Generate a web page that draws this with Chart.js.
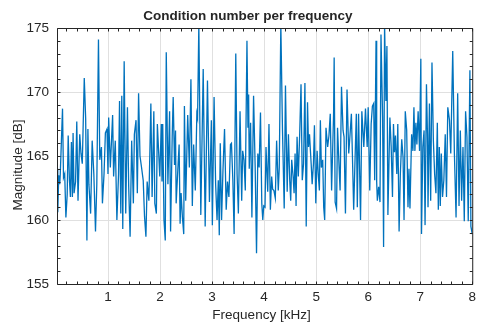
<!DOCTYPE html>
<html><head><meta charset="utf-8">
<script src="https://cdn.jsdelivr.net/npm/chart.js@4/dist/chart.umd.min.js"></script>
<style>html,body{margin:0;padding:0;background:#fff}canvas{display:block}</style>
</head><body>
<canvas id="c" width="481" height="323"></canvas>
<script>
// Frequencies (kHz) of the plotted samples
const freqKHz = [
0.019,0.034,0.053,0.072,0.082,0.125,0.144,0.167,0.190,0.215,0.234,0.258,0.277,0.296,0.315,0.328,0.347,0.376,0.399,0.423,
0.456,0.480,0.505,0.543,0.570,0.594,0.613,0.632,0.665,0.695,0.727,0.759,0.784,0.816,0.841,0.873,0.892,0.923,0.949,0.980,
0.999,1.012,1.044,1.088,1.107,1.139,1.170,1.202,1.221,1.245,1.264,1.283,1.310,1.340,1.373,1.397,1.424,1.454,1.487,1.506,
1.538,1.563,1.587,1.614,1.644,1.676,1.701,1.728,1.752,1.785,1.823,1.847,1.880,1.899,1.929,1.948,1.994,2.024,2.037,2.051,
2.075,2.100,2.119,2.151,2.183,2.202,2.233,2.252,2.278,2.297,2.309,2.341,2.366,2.385,2.404,2.430,2.455,2.468,2.493,2.531,
2.563,2.593,2.620,2.645,2.677,2.707,2.721,2.745,2.783,2.829,2.867,2.911,2.949,2.986,3.005,3.038,3.068,3.095,3.119,3.138,
3.157,3.182,3.209,3.239,3.271,3.296,3.323,3.353,3.372,3.399,3.423,3.455,3.480,3.505,3.537,3.569,3.588,3.613,3.638,3.670,
3.689,3.702,3.714,3.740,3.765,3.797,3.828,3.854,3.879,3.904,3.930,3.955,3.974,3.993,4.017,4.036,4.069,4.093,4.120,4.145,
4.164,4.188,4.215,4.240,4.272,4.291,4.321,4.353,4.386,4.410,4.443,4.467,4.492,4.511,4.530,4.557,4.576,4.595,4.614,4.633,
4.657,4.682,4.709,4.733,4.758,4.784,4.809,4.834,4.853,4.872,4.904,4.923,4.948,4.967,4.993,5.018,5.043,5.062,5.081,5.100,
5.126,5.145,5.164,5.189,5.221,5.246,5.271,5.297,5.335,5.346,5.365,5.392,5.411,5.441,5.460,5.487,5.517,5.536,5.563,5.593,
5.626,5.650,5.677,5.696,5.721,5.745,5.772,5.791,5.815,5.853,5.878,5.916,5.948,5.981,6.000,6.030,6.057,6.081,6.106,6.125,
6.151,6.163,6.176,6.201,6.227,6.246,6.277,6.296,6.315,6.341,6.360,6.379,6.417,6.442,6.467,6.486,6.505,6.524,6.550,6.569,
6.594,6.618,6.645,6.670,6.689,6.713,6.740,6.765,6.784,6.803,6.835,6.860,6.879,6.898,6.917,6.936,6.960,6.987,7.012,7.025,
7.050,7.074,7.093,7.120,7.139,7.150,7.177,7.201,7.226,7.253,7.277,7.302,7.329,7.348,7.367,7.386,7.405,7.429,7.454,7.481,
7.505,7.530,7.562,7.587,7.625,7.657,7.689,7.720,7.746,7.771,7.796,7.822,7.847,7.872,7.898,7.923,7.955,7.974,8.000
];
// Condition number magnitude (dB)
const magnitudeDb = [
164.0,160.6,163.5,162.8,163.6,168.7,163.3,163.6,160.2,162.0,166.6,163.1,161.8,166.1,161.8,166.8,162.1,163.0,167.7,161.5,
166.7,165.2,164.4,171.1,167.9,158.4,167.1,162.8,160.5,166.2,163.6,159.1,162.8,174.1,164.7,165.7,161.3,163.6,166.8,167.1,
163.6,168.0,164.1,168.2,163.4,166.2,160.0,163.6,169.3,160.5,169.7,159.3,172.4,160.5,168.8,162.6,158.7,166.2,161.3,166.7,
167.8,162.1,169.9,165.0,164.1,163.1,160.3,158.7,163.0,161.5,169.1,161.8,168.5,161.3,160.5,167.5,163.4,167.5,163.0,167.5,
160.0,158.4,173.1,162.8,168.5,159.1,166.5,169.6,164.3,167.0,161.3,163.9,165.9,159.7,162.1,160.2,158.9,168.9,161.5,168.2,
164.1,171.0,161.1,165.9,162.3,168.3,168.0,175.3,160.4,171.8,159.5,170.9,161.4,167.8,159.6,169.6,162.8,160.0,163.1,158.8,
166.0,160.0,163.9,167.1,160.8,163.0,161.8,165.9,166.0,163.1,158.9,173.0,163.6,160.5,168.5,161.5,165.4,164.7,162.3,174.0,
167.2,169.8,164.0,167.6,160.2,169.7,164.1,157.4,165.2,164.1,168.4,161.3,160.0,161.1,161.0,165.7,162.2,167.5,160.8,163.4,
162.4,162.3,161.7,166.2,162.3,164.1,175.3,167.0,160.9,170.5,162.2,166.7,163.1,161.5,164.7,163.4,162.1,165.2,161.1,166.5,
163.4,166.5,170.6,163.1,164.4,170.7,159.5,169.2,165.7,166.7,164.4,162.8,164.4,167.4,161.3,165.4,163.4,162.3,167.8,164.1,
164.7,161.0,160.0,167.2,165.7,166.6,168.3,162.3,168.3,172.7,161.4,160.9,167.2,164.1,162.3,170.4,167.0,166.5,160.5,170.2,
165.2,166.6,168.3,165.2,160.8,164.4,168.3,161.0,168.3,160.0,168.5,165.7,168.7,165.7,168.8,162.3,167.5,168.9,169.1,163.1,
174.0,163.0,161.5,162.6,161.4,174.5,168.0,157.9,175.3,169.3,173.6,160.4,168.0,165.7,161.8,167.5,165.3,166.6,163.6,167.5,
159.1,163.6,166.3,164.9,160.0,168.5,167.0,161.0,164.0,160.9,166.7,165.4,168.8,165.4,167.6,165.9,168.5,165.4,172.6,158.9,
165.7,167.0,159.6,170.6,166.7,161.0,169.1,161.5,172.3,166.2,163.6,162.1,167.6,160.8,165.7,161.1,165.2,161.8,163.1,166.7,
161.8,168.8,167.8,165.2,173.2,165.2,160.2,169.9,161.1,167.0,161.5,165.7,159.9,168.5,166.5,159.9,171.7,159.5,158.9
];
const xTickValues = [1, 2, 3, 4, 5, 6, 7, 8];
const yTickValues = [155, 160, 165, 170, 175];
const xRangeMax = 8;
const yRange = [155, 175];
const titleText = 'Condition number per frequency';
const xLabelText = 'Frequency [kHz]';
const yLabelText = 'Magnitude [dB]';

const FONT = "'Liberation Sans', Arial, Helvetica, sans-serif";
const INK = '#262626';
const GRID = '#e0e0e0';
const LINE = '#0072BD';
Chart.defaults.font.family = FONT;
Chart.defaults.font.size = 13.5;
Chart.defaults.color = INK;

const points = freqKHz.map((f, i) => ({ x: f, y: magnitudeDb[i] }));

const decor = {
  id: 'decor',
  afterDatasetsDraw(chart) {
    const { ctx, chartArea: a, scales: { x, y } } = chart;
    ctx.save();
    ctx.strokeStyle = INK;
    ctx.lineWidth = 1;
    const L = a.left + 0.5, R = a.right + 0.5, T = a.top + 0.5, B = a.bottom + 0.5;
    ctx.beginPath();
    ctx.rect(L, T, R - L, B - T);
    const tk = 3;
    for (let k = 1; k <= 40; k++) {
      const v = k * 0.2;
      if (v < x.min || v > x.max + 1e-9) continue;
      const px = Math.round(x.getPixelForValue(v)) + 0.5;
      ctx.moveTo(px, B); ctx.lineTo(px, B - tk);
      ctx.moveTo(px, T); ctx.lineTo(px, T + tk);
    }
    for (let v = y.min; v <= y.max; v++) {
      const py = Math.round(y.getPixelForValue(v)) + 0.5;
      ctx.moveTo(L, py); ctx.lineTo(L + tk, py);
      ctx.moveTo(R, py); ctx.lineTo(R - tk, py);
    }
    ctx.stroke();
    ctx.fillStyle = INK;
    ctx.textAlign = 'center';
    ctx.textBaseline = 'alphabetic';
    ctx.font = 'bold 13.5px ' + FONT;
    ctx.fillText(titleText, 248, 19.5);
    ctx.font = '13.5px ' + FONT;
    ctx.fillText(xLabelText, 261.5, 318.5);
    ctx.translate(22, 165);
    ctx.rotate(-Math.PI / 2);
    ctx.fillText(yLabelText, 0, 0);
    ctx.restore();
  }
};

new Chart(document.getElementById('c'), {
  type: 'line',
  data: {
    datasets: [{
      data: points,
      borderColor: LINE,
      borderWidth: 1.3,
      pointRadius: 0,
      fill: false,
      tension: 0
    }]
  },
  options: {
    responsive: false,
    animation: false,
    devicePixelRatio: 1,
    layout: { padding: { left: 0, right: 3, top: 28, bottom: 0 } },
    plugins: { legend: { display: false }, tooltip: { enabled: false }, title: { display: false } },
    scales: {
      x: {
        type: 'linear',
        min: freqKHz[0],
        max: xRangeMax,
        afterBuildTicks: s => { s.ticks = xTickValues.map(v => ({ value: v })); },
        afterFit: s => { s.height = 39; },
        grid: { color: GRID, drawTicks: false },
        border: { display: false },
        ticks: { padding: 5, maxRotation: 0, autoSkip: false, color: INK, callback: v => String(v) }
      },
      y: {
        type: 'linear',
        min: yRange[0],
        max: yRange[1],
        afterBuildTicks: s => { s.ticks = yTickValues.map(v => ({ value: v })); },
        afterFit: s => { s.width = 57; },
        grid: { color: GRID, drawTicks: false },
        border: { display: false },
        ticks: { padding: 8, color: INK, callback: v => String(v) }
      }
    }
  },
  plugins: [decor]
});
</script>
</body></html>
